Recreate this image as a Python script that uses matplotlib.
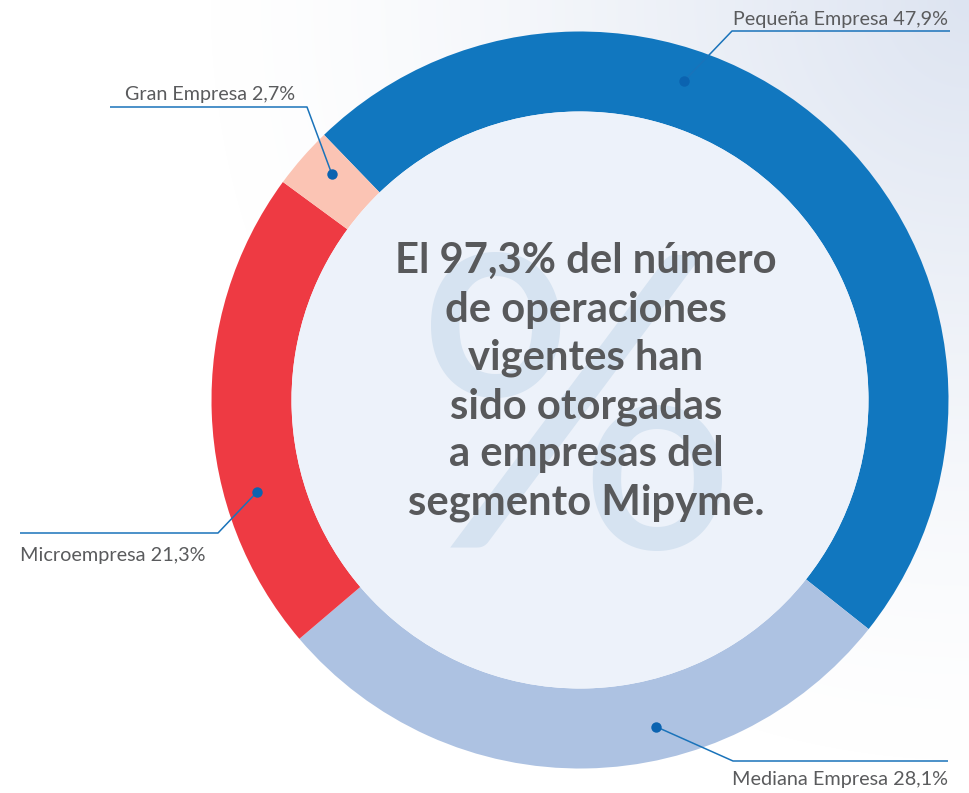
import numpy as np
import matplotlib
matplotlib.use("Agg")
import matplotlib.pyplot as plt
from matplotlib.patches import Circle

# ---------------- data ----------------
categories = ["Pequeña Empresa", "Mediana Empresa", "Microempresa", "Gran Empresa"]
shares = [47.9, 28.1, 21.3, 2.7]
share_labels = ["47,9%", "28,1%", "21,3%", "2,7%"]
colors = ["#1177bf", "#adc2e2", "#ee3a43", "#fbc4b4"]
center_lines = ["El 97,3% del número", "de operaciones", "vigentes han",
                "sido otorgadas", "a empresas del", "segmento Mipyme."]

# ---------------- layout ----------------
W, H = 970, 793
CX, CY = 580, 393
R_OUT, RING = 368.5, 80
FONT = ["Lato", "DejaVu Sans"]

fig = plt.figure(figsize=(W / 100, H / 100), dpi=100)
ax = fig.add_axes([0, 0, 1, 1])
ax.set_xlim(0, W)
ax.set_ylim(0, H)
renderer = fig.canvas.get_renderer()


def fit_width(t, target):
    """Scale the font size of text t so that its width is target pixels."""
    for _ in range(3):
        wpx = t.get_window_extent(renderer=renderer).width
        t.set_fontsize(t.get_fontsize() * target / wpx)


# background gradient (light blue toward top-right corner)
yy, xx = np.mgrid[0:H, 0:W]
d = np.hypot(xx - W, yy * 1.0)
w = np.clip(1 - d / 760, 0, 1) ** 1.3
c0 = np.array([1.0, 1.0, 1.0])
c1 = np.array([0xdd, 0xe4, 0xf1]) / 255
img = c0[None, None, :] * (1 - w[..., None]) + c1[None, None, :] * w[..., None]
ax.imshow(img, extent=(0, W, 0, H), origin="upper", zorder=0, aspect="auto")

# donut
wedges, _ = ax.pie(shares, colors=colors, startangle=134, counterclock=False,
                   radius=R_OUT, center=(CX, CY),
                   wedgeprops=dict(width=RING, edgecolor="none", linewidth=0))
for wd in wedges:
    wd.set_zorder(2)
ax.set_xlim(0, W)
ax.set_ylim(0, H)

# inner disc
ax.add_patch(Circle((CX, CY), R_OUT - RING, facecolor="#edf2fa",
                    edgecolor="none", zorder=2))

# watermark %
wm = ax.text(577, 245, "%", fontsize=300, family=FONT, fontweight="normal",
             color="#d6e3f1", ha="center", va="baseline", zorder=3)
fit_width(wm, 327)

# center text
base_y = H - 273.3
for i, line in enumerate(center_lines):
    t = ax.text(586, base_y - i * 48.3, line, fontsize=29, fontweight="bold",
                family=FONT, color="#58595b", ha="center", va="baseline", zorder=4)
    if i == 0:
        fit_width(t, 382)
        fs_center = t.get_fontsize()
    else:
        t.set_fontsize(fs_center)

# labels with leader lines
label_cfg = [
    dict(frac=0.36, elbow=(732, 762), end=950, txt=(948, 768), ha="right", wd=215),
    dict(frac=0.38, elbow=(733, 32), end=948, txt=(948, 7.5), ha="right", wd=216),
    dict(frac=0.32, elbow=(218, 260), end=20, txt=(20, 232), ha="left", wd=185),
    dict(frac=0.62, elbow=(307, 686), end=110, txt=(210, 693), ha="center", wd=170),
]
r_mid = R_OUT - RING / 2 + 7
for wd, cat, lab, cfg in zip(wedges, categories, share_labels, label_cfg):
    ang = np.deg2rad(wd.theta2 - cfg["frac"] * (wd.theta2 - wd.theta1))
    px, py = CX + r_mid * np.cos(ang), CY + r_mid * np.sin(ang)
    ex, ey = cfg["elbow"]
    ax.plot([px, ex, cfg["end"]], [py, ey, ey], color="#1a73ba", lw=1.1,
            zorder=5, solid_capstyle="butt")
    ax.plot(px, py, "o", ms=7.5, color="#0b63b0", mec="none", zorder=6)
    t = ax.text(cfg["txt"][0], cfg["txt"][1], f"{cat} {lab}", fontsize=15,
                family=FONT, color="#5a5b5d", ha=cfg["ha"], va="baseline", zorder=6)
    fit_width(t, cfg["wd"])

ax.set_aspect("auto")
ax.axis("off")

fig.savefig("out.png", dpi=100)
